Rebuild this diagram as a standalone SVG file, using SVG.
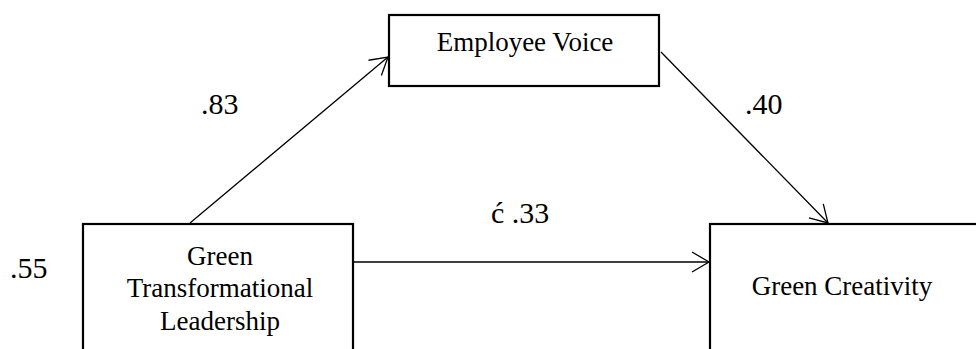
<svg xmlns="http://www.w3.org/2000/svg" width="976" height="349" viewBox="0 0 976 349">
<style>
.box{fill:#fff;stroke:#000;stroke-width:2.2}
.t{font-family:"Liberation Serif","Times New Roman",serif;font-size:27px;fill:#000;text-anchor:middle}
.lbl{font-family:"Liberation Serif","Times New Roman",serif;font-size:30px;fill:#000}
.edge{fill:none;stroke:#000;stroke-width:1.3}
</style>
<defs>
<marker id="arr" markerUnits="userSpaceOnUse" markerWidth="24" markerHeight="24" viewBox="-20 -12 22 24" refX="0" refY="0" orient="auto">
<path d="M-17,-10 L0,0 L-17,10" fill="none" stroke="#000" stroke-width="1.3"/>
</marker>
</defs>
<g id="connectors">
<line class="edge" x1="190" y1="223" x2="388" y2="57" marker-end="url(#arr)"/>
<line class="edge" x1="661" y1="52" x2="828" y2="223" marker-end="url(#arr)"/>
<line class="edge" x1="354" y1="262" x2="709" y2="262" marker-end="url(#arr)"/>
</g>
<g id="employee-voice">
<rect class="box" x="389" y="15" width="270" height="71"/>
<text class="t" x="525" y="51">Employee Voice</text>
</g>
<g id="gtl">
<rect class="box" x="83" y="224" width="270" height="140"/>
<text class="t" x="220" y="265">Green</text>
<text class="t" x="220" y="297">Transformational</text>
<text class="t" x="220" y="330">Leadership</text>
</g>
<g id="green-creativity">
<rect class="box" x="710" y="224" width="280" height="140"/>
<text class="t" x="842" y="295">Green Creativity</text>
</g>
<g id="labels">
<text class="lbl" x="10" y="278">.55</text>
<text class="lbl" x="201" y="114">.83</text>
<text class="lbl" x="745" y="114">.40</text>
<text class="lbl" x="491" y="223">ć .33</text>
</g>
</svg>
